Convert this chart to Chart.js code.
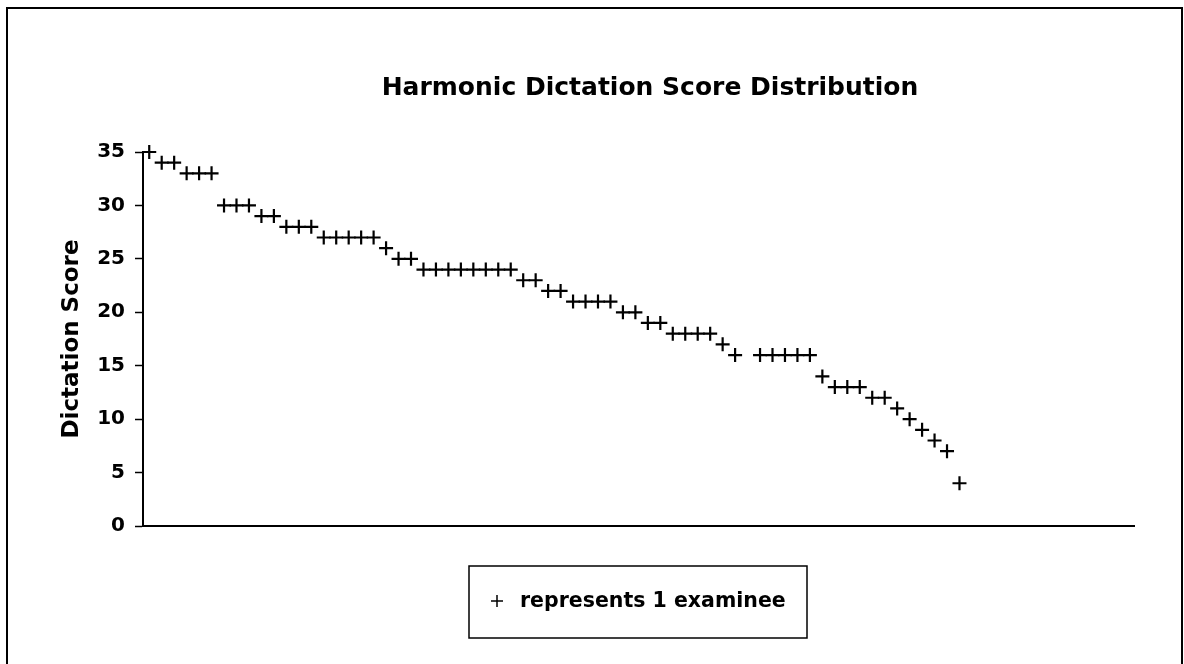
<!DOCTYPE html>
<html>
<head>
<meta charset="utf-8">
<title>Harmonic Dictation Score Distribution</title>
<script src="https://cdn.jsdelivr.net/npm/chart.js@4.4.0/dist/chart.umd.min.js"></script>
<style>
    html, body { margin: 0; padding: 0; background: #ffffff; }
    .chart_wrap { width: 1184px; height: 664px; }
</style>
</head>
<body>
<div class="chart_wrap"><canvas class="score_chart" width="1184" height="664"></canvas></div>
<script>
"use strict";
// Data - one score per examinee, sorted high to low (null = empty slot in the original chart)
const scores = [
    35, 34, 34, 33, 33, 33, 30, 30, 30, 29, 29, 28, 28, 28,
    27, 27, 27, 27, 27, 26, 25, 25,
    24, 24, 24, 24, 24, 24, 24, 24, 23, 23, 22, 22,
    21, 21, 21, 21, 20, 20, 19, 19, 18, 18, 18, 18, 17, 16,
    null, 16, 16, 16, 16, 16, 14, 13, 13, 13, 12, 12,
    11, 10, 9, 8, 7, 4
];
const score_ticks = [0, 5, 10, 15, 20, 25, 30, 35];
const chart_title = "Harmonic Dictation Score Distribution";
const y_title = "Dictation Score";
const key_label = "represents 1 examinee";

const font_family = "'DejaVu Sans', 'Liberation Sans', Arial, sans-serif";

// Rank on the x axis, score on the y axis
const points = scores.map(function (score, i) {
    return { x: i + 1, y: score };
});

// Page frame, title (centred on the page, not the plot) and key box
const frame_plugin = {
    id: "frameAndKey",
    beforeDraw: function (chart) {
        const { ctx } = chart;
        ctx.save();
        ctx.fillStyle = "#ffffff";
        ctx.fillRect(0, 0, chart.width, chart.height);
        ctx.restore();
    },
    afterDraw: function (chart) {
        const { ctx } = chart;
        ctx.save();
        ctx.strokeStyle = "#000000";
        ctx.fillStyle = "#000000";
        ctx.lineWidth = 2;
        ctx.strokeRect(7, 8, 1175, 680); // outer border, bottom runs off the page
        // title
        ctx.font = "bold 25px " + font_family;
        ctx.textAlign = "center";
        ctx.textBaseline = "middle";
        ctx.fillText(chart_title, 650, 88);
        // key box
        ctx.lineWidth = 1.5;
        ctx.strokeRect(469, 566, 338, 72);
        Chart.helpers.drawPoint(ctx, { pointStyle: "cross", radius: 6, borderWidth: 1.5 }, 497, 601);
        ctx.font = "bold 20.5px " + font_family;
        ctx.textAlign = "left";
        ctx.fillText(chart.data.datasets[0].label, 520, 602);
        ctx.restore();
    }
};

const score_chart = document.querySelector(".score_chart");
new Chart(score_chart, {
    type: "scatter",
    data: {
        datasets: [{
            label: key_label,
            data: points,
            pointStyle: "cross",
            pointRadius: 7,
            pointHoverRadius: 7,
            pointBorderWidth: 2.2,
            borderColor: "#000000",
            backgroundColor: "#000000",
            showLine: false,
            clip: false,
        }]
    },
    options: {
        responsive: false,
        animation: false,
        events: [],
        layout: {
            padding: { top: 152, left: 0, right: 50, bottom: 138 }
        },
        scales: {
            x: {
                type: "linear",
                min: 0.5,
                max: 80,
                ticks: { display: false },
                grid: { display: false, drawOnChartArea: false, drawTicks: false },
                border: { display: true, color: "#000000", width: 2 },
                afterFit: function (scale) { scale.height = 0; },
            },
            y: {
                min: 0,
                max: 35,
                afterBuildTicks: function (scale) {
                    scale.ticks = score_ticks.map(function (v) { return { value: v }; });
                },
                ticks: {
                    color: "#000000",
                    padding: 10,
                    font: { family: font_family, size: 20, weight: "bold" },
                },
                grid: {
                    drawOnChartArea: false,
                    drawTicks: true,
                    tickLength: 8,
                    tickColor: "#000000",
                    tickWidth: 1.5,
                },
                border: { display: true, color: "#000000", width: 2 },
                title: {
                    display: true,
                    text: y_title,
                    color: "#000000",
                    font: { family: font_family, size: 23, weight: "bold", lineHeight: 1.2 },
                    padding: { top: 58, bottom: 0 },
                },
                afterFit: function (scale) { scale.width = 143; },
            }
        },
        plugins: {
            legend: { display: false },
            tooltip: { enabled: false },
            title: { display: false },
        }
    },
    plugins: [frame_plugin],
});
</script>
</body>
</html>
